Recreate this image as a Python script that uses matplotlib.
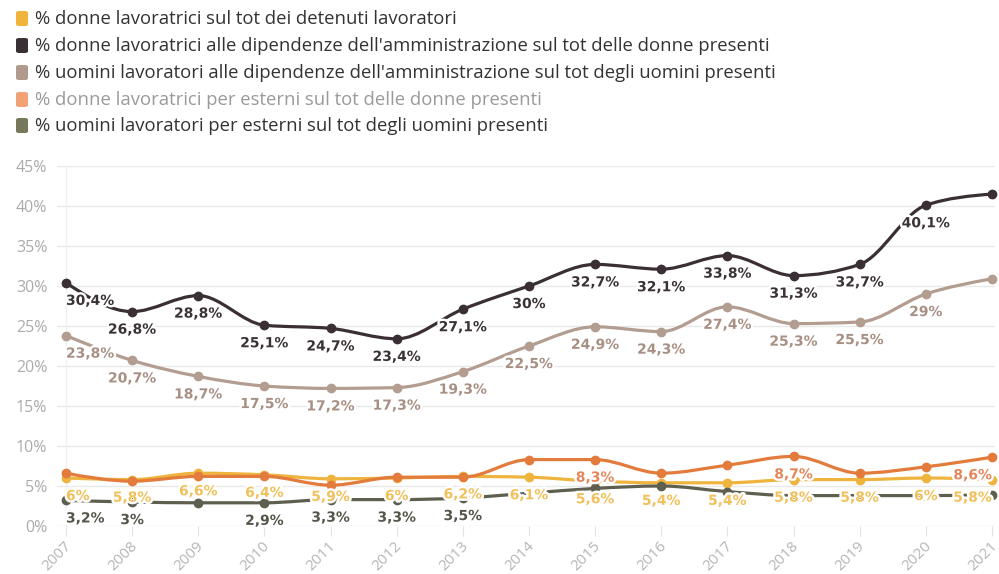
import numpy as np
import matplotlib.pyplot as plt
import matplotlib.transforms as mtransforms
from matplotlib.path import Path
from matplotlib.patches import PathPatch, FancyBboxPatch
import matplotlib.patheffects as pe

years = list(range(2007, 2022))

# % donne lavoratrici sul tot dei detenuti lavoratori
donne_su_lavoratori = [6.0, 5.8, 6.6, 6.4, 5.9, 6.0, 6.2, 6.1, 5.6, 5.4, 5.4, 5.8, 5.8, 6.0, 5.8]
# % donne lavoratrici alle dipendenze dell'amministrazione
donne_amm = [30.4, 26.8, 28.8, 25.1, 24.7, 23.4, 27.1, 30.0, 32.7, 32.1, 33.8, 31.3, 32.7, 40.1, 41.5]
# % uomini lavoratori alle dipendenze dell'amministrazione
uomini_amm = [23.8, 20.7, 18.7, 17.5, 17.2, 17.3, 19.3, 22.5, 24.9, 24.3, 27.4, 25.3, 25.5, 29.0, 30.9]
# % donne lavoratrici per esterni
donne_est = [6.6, 5.6, 6.2, 6.2, 5.1, 6.1, 6.1, 8.3, 8.3, 6.6, 7.6, 8.7, 6.6, 7.4, 8.6]
# % uomini lavoratori per esterni
uomini_est = [3.2, 3.0, 2.9, 2.9, 3.3, 3.3, 3.5, 4.1, 4.7, 5.0, 4.3, 3.8, 3.8, 3.8, 3.9]

legend_labels = [
    "% donne lavoratrici sul tot dei detenuti lavoratori",
    "% donne lavoratrici alle dipendenze dell'amministrazione sul tot delle donne presenti",
    "% uomini lavoratori alle dipendenze dell'amministrazione sul tot degli uomini presenti",
    "% donne lavoratrici per esterni sul tot delle donne presenti",
    "% uomini lavoratori per esterni sul tot degli uomini presenti",
]

# (values, line colour, label colour, legend swatch, legend text colour, years with labels)
series = [
    (donne_su_lavoratori, "#eeb43e", "#f1c05a", "#f2b33d", "#333333", years),
    (donne_amm, "#3a2f34", "#3a3236", "#3a2f34", "#333333", years[:-1]),
    (uomini_amm, "#b39c90", "#a88f84", "#b09a8e", "#333333", years[:-1]),
    (donne_est, "#e37b3d", "#e2875a", "#f1a275", "#9a9a9a", [2015, 2018, 2021]),
    (uomini_est, "#5f5f4f", "#55554a", "#77775a", "#333333", [2007, 2008, 2010, 2011, 2012, 2013]),
]


def monotone_path(x, y):
    # monotone cubic (d3 curveMonotoneX) as bezier segments
    x = np.asarray(x, float)
    y = np.asarray(y, float)
    h = np.diff(x)
    s = np.diff(y) / h
    n = len(x)
    t = np.zeros(n)
    for i in range(1, n - 1):
        p = (s[i - 1] * h[i] + s[i] * h[i - 1]) / (h[i - 1] + h[i])
        t[i] = (np.sign(s[i - 1]) + np.sign(s[i])) * min(abs(s[i - 1]), abs(s[i]), 0.5 * abs(p))
    t[0] = (3 * s[0] - t[1]) / 2
    t[-1] = (3 * s[-1] - t[-2]) / 2
    verts = [(x[0], y[0])]
    codes = [Path.MOVETO]
    for i in range(n - 1):
        d = h[i] / 3
        verts += [(x[i] + d, y[i] + d * t[i]), (x[i + 1] - d, y[i + 1] - d * t[i + 1]), (x[i + 1], y[i + 1])]
        codes += [Path.CURVE4] * 3
    return Path(verts, codes)


def fmt(v):
    s = ("%.1f" % v).rstrip("0").rstrip(".")
    return s.replace(".", ",") + "%"


fig = plt.figure(figsize=(9.99, 5.74), dpi=100)
W, H = 999, 574
ax = fig.add_axes([57 / W, (H - 526) / H, 938 / W, 360 / H])

px = 14 / 926
ax.set_xlim(2007 - 9 * px, 2021 + 3 * px)
ax.set_ylim(0, 45)

for z, (vals, lc, tc, sw, ltc, lab_years) in enumerate(series):
    ax.add_patch(PathPatch(monotone_path(years, vals), fill=False, ec=lc, lw=2.3,
                           zorder=3 + z, clip_on=False, capstyle="round"))
    ax.plot(years, vals, "o", color=lc, ms=6, zorder=3 + z, clip_on=False)

for vals, lc, tc, sw, ltc, lab_years in series:
    for yr, v in zip(years, vals):
        if yr not in lab_years:
            continue
        ha = "center"
        if yr == 2007:
            ha = "left"
        elif yr == 2021:
            ha = "right"
        ax.annotate(fmt(v), (yr, v), xytext=(0, -13), textcoords="offset points",
                    ha=ha, va="center", fontsize=10, fontweight="bold", color=tc,
                    family="DejaVu Sans", zorder=20,
                    path_effects=[pe.withStroke(linewidth=3.5, foreground="white")])

ax.set_yticks(range(0, 50, 5))
ax.set_yticklabels([f"{v}%" for v in range(0, 50, 5)])
ax.set_xticks(years)
ax.set_xticklabels([str(y) for y in years], rotation=45, ha="right", va="center",
                   rotation_mode="anchor")
ax.grid(axis="y", color="#e9e9e9", lw=1)
ax.set_axisbelow(True)
for side in ["top", "right", "bottom", "left"]:
    ax.spines[side].set_visible(False)
ax.axvline(2007, color="#f0f0f0", lw=1, zorder=0)
ax.tick_params(axis="y", length=0, pad=7, labelsize=11.5, labelcolor="#ababab")
ax.tick_params(axis="x", length=7, color="#e3e3e3", pad=6, labelsize=11, labelcolor="#b5b5b5")
shift = mtransforms.ScaledTranslation(3 / 100, 0, fig.dpi_scale_trans)
for lbl in ax.get_xticklabels():
    lbl.set_family("Open Sans")
    lbl.set_transform(lbl.get_transform() + shift)
for lbl in ax.get_yticklabels():
    lbl.set_family("Open Sans")

# legend rows
row_y = [19, 46, 73, 100, 126]
for (vals, lc, tc, sw, ltc, lab_years), text, ry in zip(series, legend_labels, row_y):
    fig.patches.append(FancyBboxPatch((16 / W, (H - ry - 7) / H), 12 / W, 15 / H,
                                      boxstyle="round,pad=0,rounding_size=0.003",
                                      transform=fig.transFigure, fc=sw, ec="none"))
    fig.text(35 / W, (H - ry) / H, text, ha="left", va="center", fontsize=13.3,
             color=ltc, family="Open Sans")

fig.savefig("out.png", dpi=100, facecolor="white")
